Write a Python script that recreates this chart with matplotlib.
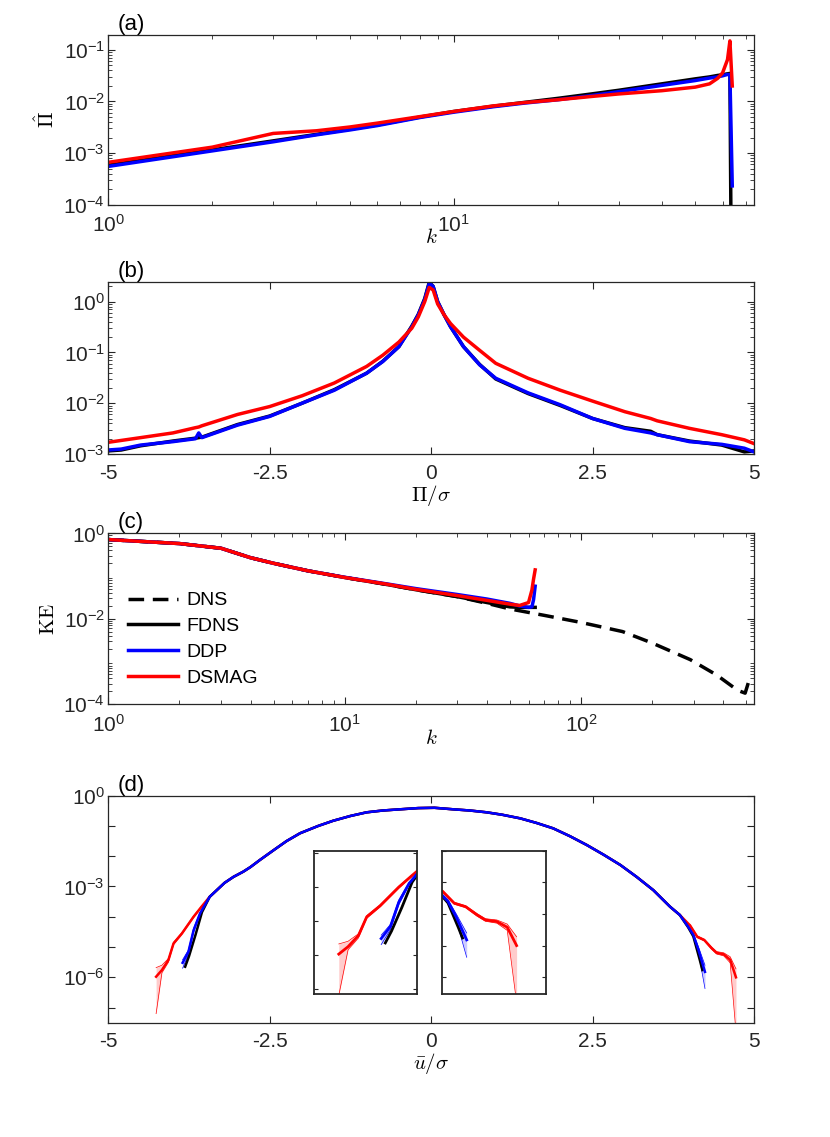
import numpy as np
import matplotlib
matplotlib.use("Agg")
import matplotlib.pyplot as plt
from matplotlib.ticker import LogLocator, FuncFormatter, NullFormatter, FixedLocator, NullLocator

plt.rcParams['font.family'] = ['Liberation Sans', 'DejaVu Sans']
plt.rcParams['mathtext.fontset'] = 'custom'
plt.rcParams['mathtext.rm'] = 'Liberation Sans'
plt.rcParams['mathtext.it'] = 'Liberation Sans:italic'
plt.rcParams['axes.unicode_minus'] = False

AX_COL = '#262626'

# (a) interscale transfer vs k
k_a = [1, 2, 3, 4, 5, 6, 8, 10, 13, 16, 20, 25, 30, 40, 50, 55, 58, 60, 62, 63, 64]
pi_fdns = [5.8e-4, 1.15e-3, 1.72e-3, 2.3e-3, 2.9e-3, 3.5e-3, 5.0e-3, 6.4e-3, 8.1e-3, 9.6e-3,
           1.15e-2, 1.4e-2, 1.65e-2, 2.2e-2, 2.75e-2, 3.0e-2, 3.2e-2, 3.3e-2, 3.45e-2, 3.5e-2,
           1e-8]
pi_ddp = [5.5e-4, 1.1e-3, 1.65e-3, 2.25e-3, 2.8e-3, 3.4e-3, 4.9e-3, 6.2e-3, 7.9e-3, 9.3e-3,
          1.08e-2, 1.3e-2, 1.55e-2, 2.05e-2, 2.55e-2, 2.85e-2, 3.0e-2, 3.15e-2, 3.35e-2, 3.3e-2,
          2.3e-4]
pi_dsmag = [6.6e-4, 1.3e-3, 2.4e-3, 2.7e-3, 3.2e-3, 3.8e-3, 5.1e-3, 6.4e-3, 8.2e-3, 9.5e-3,
            1.08e-2, 1.25e-2, 1.4e-2, 1.62e-2, 1.9e-2, 2.2e-2, 2.8e-2, 3.6e-2, 6.5e-2, 1.5e-1,
            2.0e-2]

# (b) PDF of Pi/sigma
x_b = [-5, -4.8, -4.5, -4, -3.65, -3.6, -3.55, -3, -2.5, -2, -1.5, -1, -0.75, -0.5, -0.3, -0.2,
       -0.1, -0.03, 0.03, 0.1, 0.2, 0.3, 0.5, 0.75, 1, 1.5, 2, 2.5, 3, 3.4, 3.5, 4, 4.5, 4.85, 5]
fdns_b = [1.15e-3, 1.2e-3, 1.45e-3, 1.8e-3, 2.05e-3, 2.1e-3, 2.15e-3, 3.8e-3, 5.6e-3, 1.0e-2,
          1.85e-2, 3.9e-2, 6.7e-2, 0.13, 0.33, 0.56, 1.15, 2.4, 2.0, 1.0, 0.55, 0.32, 0.13,
          5.8e-2, 3.0e-2, 1.55e-2, 9.0e-3, 5.0e-3, 3.3e-3, 2.8e-3, 2.4e-3, 1.8e-3, 1.5e-3,
          1.1e-3, 1.15e-3]
ddp_b = [1.2e-3, 1.25e-3, 1.5e-3, 1.75e-3, 2.0e-3, 2.6e-3, 2.1e-3, 3.7e-3, 5.5e-3, 1.0e-2,
         1.8e-2, 3.9e-2, 6.6e-2, 0.13, 0.32, 0.55, 1.1, 2.3, 2.0, 1.0, 0.55, 0.32, 0.13,
         5.7e-2, 3.1e-2, 1.6e-2, 9.3e-3, 5.0e-3, 3.2e-3, 2.6e-3, 2.4e-3, 1.75e-3, 1.55e-3,
         1.3e-3, 1.1e-3]
dsmag_b = [1.7e-3, 1.85e-3, 2.1e-3, 2.6e-3, 3.3e-3, 3.4e-3, 3.6e-3, 6.0e-3, 8.6e-3, 1.4e-2,
           2.5e-2, 5.3e-2, 8.8e-2, 0.16, 0.3, 0.5, 1.0, 1.9, 1.7, 0.9, 0.55, 0.37, 0.2,
           0.11, 6.1e-2, 3.1e-2, 1.8e-2, 1.1e-2, 6.8e-3, 5.0e-3, 4.5e-3, 3.2e-3, 2.4e-3,
           1.9e-3, 1.6e-3]

# (c) kinetic energy spectra
k_dns = [1, 2, 3, 4, 5, 7, 10, 15, 20, 30, 40, 50, 70, 100, 150, 200, 290, 375, 460, 495, 512]
ke_dns = [0.72, 0.58, 0.45, 0.27, 0.2, 0.133, 0.093, 0.064, 0.048, 0.033, 0.023, 0.017, 0.012,
          0.0082, 0.005, 0.0027, 0.0011, 4.8e-4, 2.1e-4, 1.8e-4, 3.3e-4]
k_les = [1, 2, 3, 4, 5, 7, 10, 15, 20, 30, 40, 50, 55, 60, 62, 63, 64]
ke_fdns = [0.72, 0.58, 0.45, 0.27, 0.2, 0.133, 0.093, 0.064, 0.048, 0.033, 0.024, 0.019,
           0.0185, 0.0185, 0.0185, 0.0185, 0.0185]
ke_ddp = [0.72, 0.58, 0.45, 0.27, 0.2, 0.133, 0.094, 0.066, 0.051, 0.037, 0.029, 0.023,
          0.02, 0.0185, 0.019, 0.028, 0.058]
ke_dsmag = [0.72, 0.58, 0.45, 0.27, 0.2, 0.133, 0.093, 0.065, 0.049, 0.035, 0.027, 0.022,
            0.0205, 0.024, 0.047, 0.085, 0.14]

# (d) PDF of u/sigma, log10 values; common core plus tails
u_core = [-3.43, -3.32, -3.2, -3.06, -2.91, -2.8, -2.65, -2.44, -2.24, -2.03, -1.75, -1.52,
          -1.25, -1.0, -0.75, -0.48, -0.2, 0.05, 0.34, 0.6, 0.86, 1.1, 1.38, 1.63, 1.89,
          2.15, 2.41, 2.67, 2.93, 3.18, 3.44, 3.7, 3.85]
lg_core = [-3.34, -3.12, -2.88, -2.68, -2.51, -2.36, -2.12, -1.8, -1.5, -1.24, -1.0, -0.83,
           -0.67, -0.55, -0.49, -0.45, -0.41, -0.40, -0.45, -0.49, -0.55, -0.63, -0.75, -0.9,
           -1.08, -1.34, -1.63, -1.95, -2.29, -2.68, -3.12, -3.67, -3.94]

u_left_fdns = [-3.55, -3.65, -3.75, -3.81]
lg_left_fdns = [-3.85, -4.6, -5.3, -5.65]
u_left_ddp = [-3.58, -3.68, -3.76, -3.85]
lg_left_ddp = [-3.89, -4.45, -5.16, -5.52]
u_left_dsmag = [-3.55, -3.68, -3.86, -3.99, -4.07, -4.17, -4.26]
lg_left_dsmag = [-3.65, -4.0, -4.55, -4.88, -5.43, -5.76, -5.98]

u_right_fdns = [3.98, 4.06, 4.16, 4.2]
lg_right_fdns = [-4.35, -4.65, -5.43, -5.76]
u_right_ddp = [3.98, 4.06, 4.14, 4.24]
lg_right_ddp = [-4.33, -4.6, -5.1, -5.82]
u_right_dsmag = [4.01, 4.12, 4.23, 4.34, 4.42, 4.53, 4.63, 4.72]
lg_right_dsmag = [-4.29, -4.66, -4.77, -5.03, -5.19, -5.24, -5.42, -6.0]

# spread bands on the tails (log10)
band_left_dsmag_hi = [-3.63, -3.97, -4.52, -4.84, -5.38, -5.6, -5.68]
band_left_dsmag_lo = [-3.67, -4.03, -4.58, -4.92, -5.5, -5.85, -7.2]
band_left_ddp_hi = [-3.86, -4.38, -5.1, -5.42]
band_left_ddp_lo = [-3.92, -4.52, -5.25, -5.7]
band_right_dsmag_hi = [-4.26, -4.63, -4.74, -4.99, -5.15, -5.19, -5.32, -5.72]
band_right_dsmag_lo = [-4.32, -4.69, -4.8, -5.07, -5.23, -5.29, -5.52, -7.8]
band_right_ddp_hi = [-4.3, -4.55, -5.0, -5.6]
band_right_ddp_lo = [-4.36, -4.65, -5.2, -6.37]


def pow10(v, pos):
    e = int(round(np.log10(v)))
    return r'$10^{%d}$' % e


def pow10_every3(v, pos):
    e = int(round(np.log10(v)))
    if e % 3:
        return ''
    return r'$10^{%d}$' % e


def style(ax):
    for s in ax.spines.values():
        s.set_color(AX_COL)
        s.set_linewidth(0.9)
    ax.tick_params(which='both', direction='in', top=True, right=True,
                   color=AX_COL, labelcolor=AX_COL, labelsize=15)
    ax.tick_params(which='major', length=5, width=0.8)
    ax.tick_params(which='minor', length=3, width=0.6)
    ax.tick_params(axis='x', which='both', pad=7)
    ax.tick_params(axis='y', which='both', pad=2.5)


def full_series(u_left, lg_left, u_right, lg_right):
    u = list(reversed(u_left)) + u_core + u_right
    lg = list(reversed(lg_left)) + lg_core + lg_right
    return np.array(u), 10.0 ** np.array(lg)


fig = plt.figure(figsize=(8.3, 11.37), dpi=100)
L, W = 0.1305, 0.778
ax_a = fig.add_axes([L, 0.8201, W, 0.1491])
ax_b = fig.add_axes([L, 0.6007, W, 0.1510])
ax_c = fig.add_axes([L, 0.3808, W, 0.1500])
ax_d = fig.add_axes([L, 0.1005, W, 0.1997])

lw = 2.5
lab = dict(fontsize=15, math_fontfamily='cm')

# (a)
ax_a.plot(k_a, pi_fdns, color='k', lw=lw)
ax_a.plot(k_a, pi_ddp, color='b', lw=lw)
ax_a.plot(k_a, pi_dsmag, color='r', lw=lw)
ax_a.set_xscale('log')
ax_a.set_yscale('log')
ax_a.set_xlim(1, 74)
ax_a.set_ylim(1e-4, 0.195)
ax_a.set_xlabel('$k$', labelpad=-6, **lab)
ax_a.set_ylabel(r'$\hat{\Pi}$', **lab)

# (b)
ax_b.plot(x_b, fdns_b, color='k', lw=lw)
ax_b.plot(x_b, ddp_b, color='b', lw=lw)
ax_b.plot(x_b, dsmag_b, color='r', lw=lw)
ax_b.set_yscale('log')
ax_b.set_xlim(-5, 5)
ax_b.set_ylim(1e-3, 2.4)
ax_b.set_xlabel(r'$\Pi/\sigma$', labelpad=0, **lab)

# (c)
ax_c.plot(k_dns, ke_dns, color='k', lw=lw, dashes=(4.5, 2.5), label='DNS')
ax_c.plot(k_les, ke_fdns, color='k', lw=lw, label='FDNS')
ax_c.plot(k_les, ke_ddp, color='b', lw=lw, label='DDP')
ax_c.plot(k_les, ke_dsmag, color='r', lw=lw, label='DSMAG')
ax_c.set_xscale('log')
ax_c.set_yscale('log')
ax_c.set_xlim(1, 540)
ax_c.set_ylim(1e-4, 1)
ax_c.set_xlabel('$k$', labelpad=-5, **lab)
ax_c.set_ylabel(r'$\mathrm{KE}$', **lab)
ax_c.legend(loc='center left', bbox_to_anchor=(0.018, 0.38), frameon=False,
            handlelength=2.6, handletextpad=0.4, labelspacing=0.42, fontsize=14,
            borderaxespad=0.0)

for ax in (ax_a, ax_b, ax_c):
    style(ax)
    ax.yaxis.set_major_formatter(FuncFormatter(pow10))
    ax.yaxis.set_minor_formatter(NullFormatter())
    ax.yaxis.set_minor_locator(LogLocator(base=10, subs=np.arange(2, 10), numticks=20))
for ax in (ax_a, ax_c):
    ax.xaxis.set_major_formatter(FuncFormatter(pow10))
    ax.xaxis.set_minor_formatter(NullFormatter())
    ax.xaxis.set_minor_locator(LogLocator(base=10, subs=np.arange(2, 10), numticks=20))
ax_a.yaxis.set_major_locator(FixedLocator([1e-4, 1e-3, 1e-2, 1e-1]))
ax_a.xaxis.set_major_locator(FixedLocator([1, 10]))
ax_b.yaxis.set_major_locator(FixedLocator([1e-3, 1e-2, 1e-1, 1]))
ax_c.yaxis.set_major_locator(FixedLocator([1e-4, 1e-2, 1]))
ax_c.xaxis.set_major_locator(FixedLocator([1, 10, 100]))

# (d)
series_d = [
    ('r', u_left_dsmag, lg_left_dsmag, u_right_dsmag, lg_right_dsmag),
    ('k', u_left_fdns, lg_left_fdns, u_right_fdns, lg_right_fdns),
    ('b', u_left_ddp, lg_left_ddp, u_right_ddp, lg_right_ddp),
]
bands = [
    ((1, 0.8, 0.8), 'r', u_left_dsmag, band_left_dsmag_lo, band_left_dsmag_hi),
    ((1, 0.8, 0.8), 'r', u_right_dsmag, band_right_dsmag_lo, band_right_dsmag_hi),
    ((0.8, 0.8, 1), 'b', u_left_ddp, band_left_ddp_lo, band_left_ddp_hi),
    ((0.8, 0.8, 1), 'b', u_right_ddp, band_right_ddp_lo, band_right_ddp_hi),
]

ins_l = fig.add_axes([0.3783, 0.1258, 0.1245, 0.1260])
ins_r = fig.add_axes([0.5322, 0.1258, 0.1253, 0.1260])

for ax, width in ((ax_d, 1.8), (ins_l, 2.0), (ins_r, 2.0)):
    for fc, ec, u, lo, hi in bands:
        lo10 = 10.0 ** np.array(lo)
        hi10 = 10.0 ** np.array(hi)
        ax.fill_between(u, lo10, hi10, color=fc, lw=0)
        ax.plot(u, lo10, color=ec, lw=0.5)
        ax.plot(u, hi10, color=ec, lw=0.5)
    for c, ul, ll, ur, lr in series_d:
        u, p = full_series(ul, ll, ur, lr)
        ax.plot(u, p, color=c, lw=width)
    ax.set_yscale('log')

ax_d.set_xlim(-5, 5)
ax_d.set_ylim(10 ** -7.5, 1)
ax_d.set_xlabel(r'$\bar{u}/\sigma$', labelpad=0, **lab)
style(ax_d)
ax_d.yaxis.set_major_locator(FixedLocator([10.0 ** e for e in range(-7, 1)]))
ax_d.yaxis.set_major_formatter(FuncFormatter(pow10_every3))
ax_d.yaxis.set_minor_locator(NullLocator())

for ax in (ax_b, ax_d):
    ax.set_xticks([-5, -2.5, 0, 2.5, 5])
    ax.set_xticklabels(['-5', '-2.5', '0', '2.5', '5'])

ins_l.set_xlim(-4.5, -3.5)
ins_l.set_ylim(10 ** -7.16, 10 ** -2.92)
ins_r.set_xlim(4.0, 5.0)
ins_r.set_ylim(10 ** -7.53, 1e-3)
for ax in (ins_l, ins_r):
    for s in ax.spines.values():
        s.set_color(AX_COL)
        s.set_linewidth(1.3)
    ax.set_xticks([])
    ax.yaxis.set_major_locator(FixedLocator([10.0 ** e for e in range(-8, -1)]))
    ax.yaxis.set_minor_locator(NullLocator())
    ax.yaxis.set_major_formatter(NullFormatter())
    ax.tick_params(axis='y', which='both', direction='in', left=True, right=True,
                   length=3, color=AX_COL)

for ax, t in ((ax_a, '(a)'), (ax_b, '(b)'), (ax_c, '(c)'), (ax_d, '(d)')):
    ax.text(0.015, 1.0, t, transform=ax.transAxes, va='bottom', ha='left',
            fontsize=16, color='k')

fig.savefig('out.png', dpi=100)
